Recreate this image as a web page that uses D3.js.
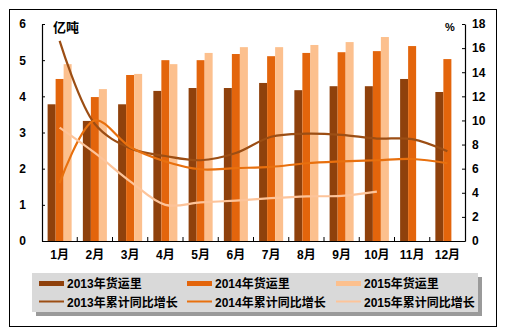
<!DOCTYPE html>
<html><head><meta charset="utf-8">
<script src="https://cdn.jsdelivr.net/npm/d3@7"></script>
<style>
body{margin:0;background:#fff;}
svg text{font-family:"Liberation Sans","Noto Sans CJK SC",Arial,sans-serif;font-weight:bold;fill:#000;}
</style></head>
<body><svg id="c" width="505" height="334"></svg>
<script>
const months = ["1月","2月","3月","4月","5月","6月","7月","8月","9月","10月","11月","12月"];
const vol2013 = [3.78,3.32,3.78,4.15,4.23,4.23,4.37,4.17,4.28,4.28,4.48,4.12];
const vol2014 = [4.48,3.98,4.59,5.00,5.00,5.17,5.11,5.20,5.22,5.25,5.39,5.03];
const vol2015 = [4.89,4.20,4.62,4.89,5.20,5.36,5.36,5.42,5.50,5.64,null,null];
const grow2013 = [16.6,9.7,7.7,7.05,6.7,7.3,8.65,8.9,8.8,8.5,8.45,7.45];
const grow2014 = [4.8,10.0,7.8,6.6,5.95,6.05,6.15,6.45,6.6,6.7,6.8,6.45];
const grow2015 = [9.4,7.3,4.95,3.0,3.2,3.35,3.55,3.7,3.75,4.1];
const leftTicks = [0,1,2,3,4,5,6];
const rightTicks = [0,2,4,6,8,10,12,14,16,18];
const barNames = ["2013年货运里","2014年货运里","2015年货运里"];
const lineNames = ["2013年累计同比增长","2014年累计同比增长","2015年累计同比增长"];
const barColors = ["#8f410c","#e3650c","#fcc08e"];
const lineColors = ["#9c4e14","#e8700e","#fdc49a"];

const svg = d3.select("#c");
svg.append("rect").attr("x",9.5).attr("y",9.5).attr("width",487).attr("height",317)
  .attr("fill","#fff").attr("stroke","#000").attr("stroke-width",1);

const x = d3.scaleBand().domain(months).range([42,465]);
const xs = d3.scaleBand().domain([0,1,2]).range([0,x.bandwidth()]).paddingOuter(0.7);
const yL = d3.scaleLinear().domain([0,6]).range([241,24]);
const yR = d3.scaleLinear().domain([0,18]).range([241,24]);

// bars
const barSeries = [vol2013, vol2014, vol2015];
barSeries.forEach((s,i)=>{
  svg.append("g").selectAll("rect").data(months.map((m,j)=>({m,v:s[j]})).filter(d=>d.v!=null))
    .join("rect")
    .attr("x",d=>x(d.m)+xs(i)).attr("width",xs.bandwidth())
    .attr("y",d=>yL(d.v)).attr("height",d=>yL(0)-yL(d.v))
    .attr("fill",barColors[i]);
});

// lines
const lineSeries = [grow2013, grow2014, grow2015];
const lineGen = d3.line().x((d,j)=>x(months[j])+x.bandwidth()/2).y(d=>yR(d)).curve(d3.curveCatmullRom.alpha(0.5));
lineSeries.forEach((s,i)=>{
  svg.append("path").attr("d",lineGen(s)).attr("fill","none")
    .attr("stroke",lineColors[i]).attr("stroke-width",2.2);
});

// axes
const axL = svg.append("g").attr("transform","translate(42,0)")
  .call(d3.axisLeft(yL).tickValues(leftTicks).tickSizeInner(-3).tickSizeOuter(0).tickPadding(16).tickFormat(d3.format("d")));
const axR = svg.append("g").attr("transform","translate(465,0)")
  .call(d3.axisRight(yR).tickValues(rightTicks).tickSizeInner(-3).tickSizeOuter(0).tickPadding(7).tickFormat(d3.format("d")));
const axB = svg.append("g").attr("transform","translate(0,241)")
  .call(d3.axisBottom(x).tickSize(0).tickPadding(9));
[axL,axR,axB].forEach(a=>{
  a.selectAll("path").attr("stroke","#000").attr("stroke-width",1.2);
  a.selectAll("line").attr("stroke","#000");
  a.selectAll("text").style("font-size","12px").style("font-weight","bold").attr("fill","#000");
});
// category boundary ticks
const bounds = months.map(m=>x(m)).slice(1);
svg.append("g").selectAll("line").data(bounds).join("line")
  .attr("x1",d=>d).attr("x2",d=>d).attr("y1",241).attr("y2",237).attr("stroke","#000");

svg.append("text").attr("x",53).attr("y",32).style("font-size","13px").text("亿吨");
svg.append("text").attr("x",445).attr("y",31).style("font-size","11px").text("%");

// legend
const lg = svg.append("g");
lg.append("rect").attr("x",36).attr("y",277).attr("width",446).attr("height",39).attr("fill","#9a9a9a");
lg.append("rect").attr("x",32).attr("y",273).attr("width",446).attr("height",39).attr("fill","#d9d9d9");
const colX = [39,187,336];
barNames.forEach((n,i)=>{
  lg.append("rect").attr("x",colX[i]).attr("y",281).attr("width",25).attr("height",5).attr("fill",barColors[i]);
  lg.append("text").attr("x",colX[i]+28).attr("y",288).style("font-size","12px").text(n);
});
lineNames.forEach((n,i)=>{
  lg.append("line").attr("x1",colX[i]).attr("x2",colX[i]+25).attr("y1",301.5).attr("y2",301.5)
    .attr("stroke",lineColors[i]).attr("stroke-width",2);
  lg.append("text").attr("x",colX[i]+28).attr("y",307).style("font-size","12px").text(n);
});
</script></body></html>
